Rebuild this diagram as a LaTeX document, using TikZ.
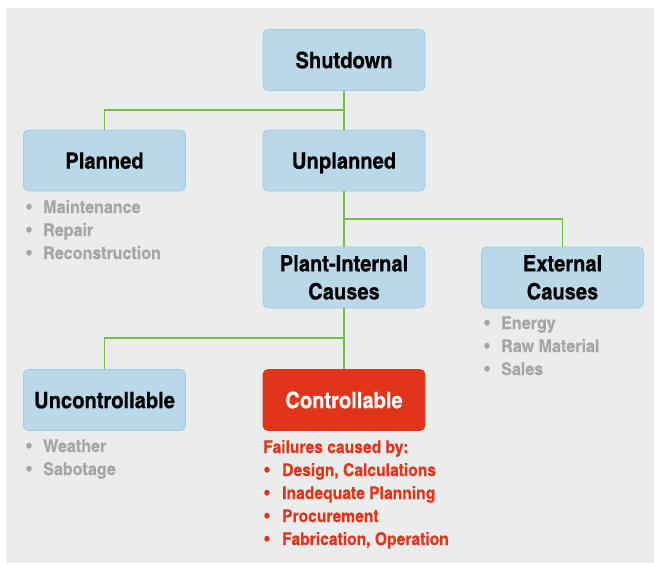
\documentclass[tikz,border=0pt]{standalone}
\usepackage{fontspec}
\newfontfamily\cnb[FakeStretch=1.09,FakeBold=0.4]{texgyreheroscn-bold.otf}
\newfontfamily\cnl[FakeStretch=1.12,FakeBold=0.3]{texgyreheroscn-bold.otf}
\newfontfamily\cnr[FakeStretch=1.09,FakeBold=0.3]{texgyreheroscn-bold.otf}
\definecolor{bgc}{HTML}{EBECEC}
\definecolor{boxblue}{HTML}{BAD8E8}
\definecolor{boxedge}{HTML}{9FCCE4}
\definecolor{redbox}{HTML}{E2341A}
\definecolor{redtxt}{HTML}{E2341A}
\definecolor{graytxt}{HTML}{A6A6A6}
\definecolor{linegreen}{HTML}{72BF44}
\tikzset{
  box/.style={rounded corners=5pt, fill=boxblue, draw=boxedge, line width=0.8pt,
    minimum width=162pt, minimum height=61pt, inner sep=0pt, align=center,
    font=\cnb\fontsize{22.5}{28}\selectfont, text=black},
  one/.style={text height=16.2pt, text depth=0pt},
  redbox/.style={box, fill=redbox, draw=redbox, text=white},
  conn/.style={draw=linegreen, line width=1.3pt},
  grayitem/.style={anchor=base west, inner sep=0pt, text=graytxt, font=\cnl\fontsize{17.5}{23}\selectfont},
  reditem/.style={anchor=base west, inner sep=0pt, text=redtxt, font=\cnr\fontsize{17.5}{23}\selectfont},
}
\newcommand{\bul}[1]{\makebox[17pt][l]{\textbullet}#1}
\begin{document}
\begin{tikzpicture}[x=1pt,y=-1pt]
\useasboundingbox (0,0) rectangle (654,563);
\fill[bgc] (6,8) rectangle (654,563);

\node[box,one] (shut) at (344,60) {Shutdown};
\node[box,one] (plan) at (104.5,160.5) {Planned};
\node[box,one] (unpl) at (344,160.5) {Unplanned};
\node[box] (pint) at (344,277.5) {Plant-Internal\\Causes};
\node[box] (ext) at (562.5,277.5) {External\\Causes};
\node[box,one] (unc) at (104.5,400) {Uncontrollable};
\node[redbox,one] (ctl) at (344,400) {Controllable};

\coordinate (j1) at (344,110);
\coordinate (j2) at (344,219);
\coordinate (j3) at (344,338);
\draw[conn] (shut.south) -- (j1) -| (plan.north);
\draw[conn] (j1) -- (unpl.north);
\draw[conn] (unpl.south) -- (j2) -| (ext.north);
\draw[conn] (j2) -- (pint.north);
\draw[conn] (pint.south) -- (j3) -| (unc.north);
\draw[conn] (j3) -- (ctl.north);

\node[grayitem] (p1) at (26,213) {\bul{Maintenance}};
\node[grayitem] (p2) at (26,236) {\bul{Repair}};
\node[grayitem] (p3) at (26,259) {\bul{Reconstruction}};

\node[grayitem] (e1) at (484,329) {\bul{Energy}};
\node[grayitem] (e2) at (484,352) {\bul{Raw Material}};
\node[grayitem] (e3) at (484,375) {\bul{Sales}};

\node[grayitem] (u1) at (26,452) {\bul{Weather}};
\node[grayitem] (u2) at (26,475) {\bul{Sabotage}};

\node[reditem] (c0) at (263,453) {Failures caused by:};
\node[reditem] (c1) at (264,476) {\makebox[18pt][l]{\textbullet}Design, Calculations};
\node[reditem] (c2) at (264,499) {\makebox[18pt][l]{\textbullet}Inadequate Planning};
\node[reditem] (c3) at (264,522) {\makebox[18pt][l]{\textbullet}Procurement};
\node[reditem] (c4) at (264,545) {\makebox[18pt][l]{\textbullet}Fabrication, Operation};
\end{tikzpicture}
\end{document}
